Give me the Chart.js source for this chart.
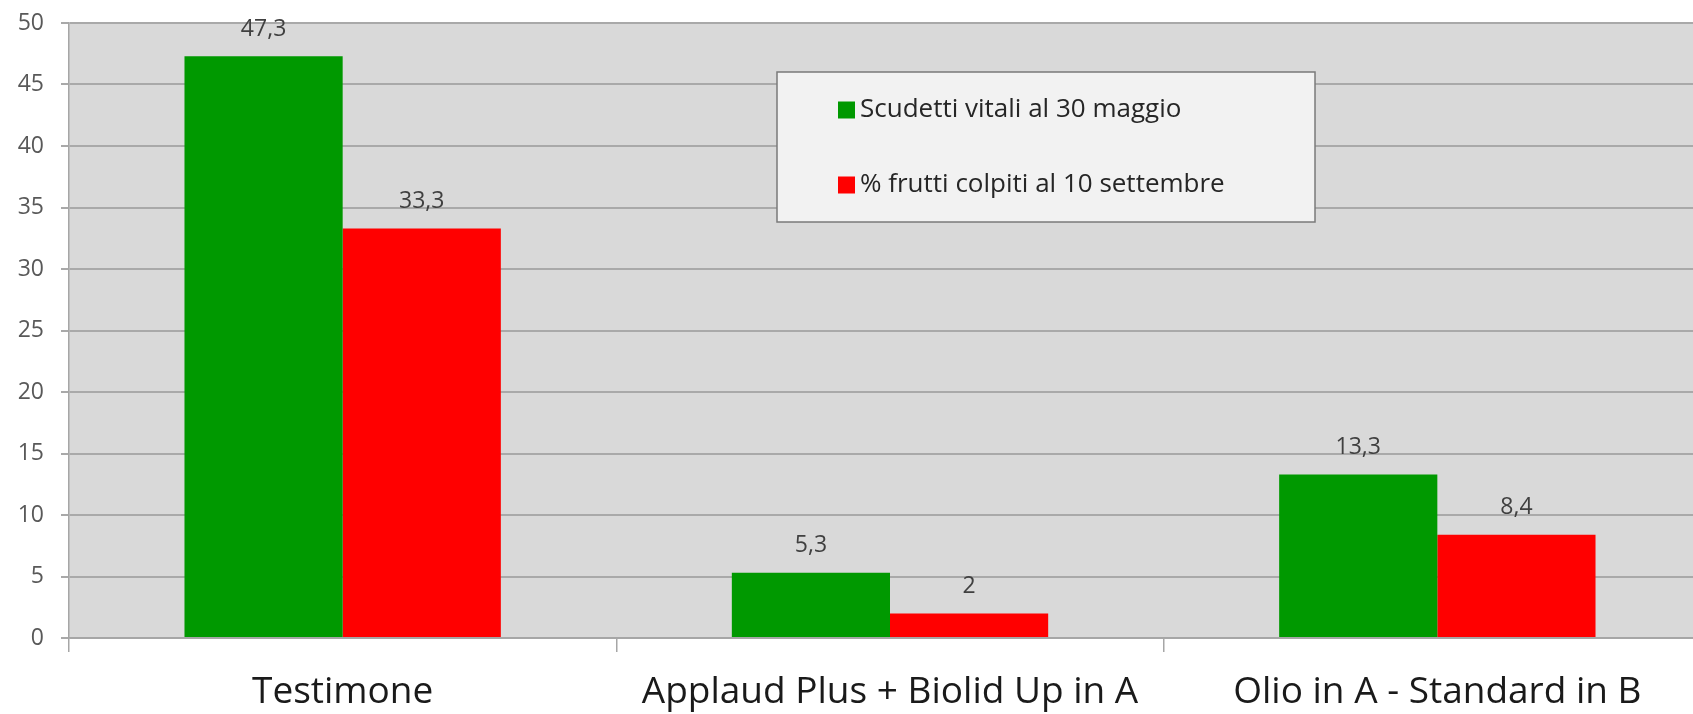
<!DOCTYPE html>
<html>
<head>
<meta charset="utf-8">
<script src="https://cdn.jsdelivr.net/npm/chart.js@4/dist/chart.umd.min.js"></script>
<style>
  html, body { margin: 0; padding: 0; background: #fff; overflow: hidden; }
  #wrap { width: 1711px; height: 714px; position: relative; }
</style>
</head>
<body>
<div id="wrap"><canvas id="barChart"></canvas></div>
<script>
const categories = ['Testimone', 'Applaud Plus + Biolid Up in A', 'Olio in A - Standard in B'];
const seriesNames = ['Scudetti vitali al 30 maggio', '% frutti colpiti al 10 settembre'];
const scudettiVitali = [47.3, 5.3, 13.3];
const fruttiColpiti = [33.3, 2, 8.4];
const yTicks = [0, 5, 10, 15, 20, 25, 30, 35, 40, 45, 50];

const FONT = "'Open Sans', 'DejaVu Sans', sans-serif";

// grey plot background
const plotBackground = {
  id: 'plotBackground',
  beforeDraw(chart) {
    const { ctx, chartArea } = chart;
    ctx.save();
    ctx.fillStyle = '#d9d9d9';
    ctx.fillRect(chartArea.left, chartArea.top, chartArea.right - chartArea.left, chartArea.bottom - chartArea.top);
    ctx.restore();
  }
};

// value labels above bars, with comma decimals
const valueLabels = {
  id: 'valueLabels',
  afterDatasetsDraw(chart) {
    const ctx = chart.ctx;
    ctx.save();
    ctx.font = '23px ' + FONT;
    ctx.fillStyle = '#404040';
    ctx.textAlign = 'center';
    ctx.textBaseline = 'middle';
    chart.data.datasets.forEach((ds, i) => {
      chart.getDatasetMeta(i).data.forEach((bar, j) => {
        const txt = String(ds.data[j]).replace('.', ',');
        ctx.fillText(txt, bar.x, bar.y - 27);
      });
    });
    ctx.restore();
  }
};

// boxed legend inside the plot
const boxLegend = {
  id: 'boxLegend',
  afterDraw(chart) {
    const ctx = chart.ctx;
    const box = { x: 777, y: 72, w: 538, h: 150 };
    ctx.save();
    ctx.fillStyle = '#f2f2f2';
    ctx.fillRect(box.x, box.y, box.w, box.h);
    ctx.strokeStyle = '#7a7a7a';
    ctx.lineWidth = 1.5;
    ctx.strokeRect(box.x, box.y, box.w, box.h);
    ctx.font = '26px ' + FONT;
    ctx.textBaseline = 'middle';
    ctx.textAlign = 'left';
    const rows = [110, 185];
    chart.data.datasets.forEach((ds, i) => {
      ctx.fillStyle = ds.backgroundColor;
      ctx.fillRect(838, rows[i] - 8.5, 17, 17);
      ctx.fillStyle = '#262626';
      ctx.fillText(ds.label, 860, rows[i]);
    });
    ctx.restore();
  }
};

const chartData = {
  labels: categories,
  datasets: [
    {
      label: seriesNames[0],
      data: scudettiVitali,
      backgroundColor: '#009900',
      categoryPercentage: 0.578,
      barPercentage: 1.0
    },
    {
      label: seriesNames[1],
      data: fruttiColpiti,
      backgroundColor: '#ff0000',
      categoryPercentage: 0.578,
      barPercentage: 1.0
    }
  ]
};

const config = {
  type: 'bar',
  data: chartData,
  options: {
    responsive: true,
    maintainAspectRatio: false,
    animation: false,
    layout: { padding: { top: 23, right: 0, left: 0, bottom: 0 } },
    plugins: {
      legend: { display: false },
      tooltip: { enabled: false }
    },
    scales: {
      x: {
        afterFit(scale) { scale.height = 76; },
        grid: {
          offset: true,
          drawOnChartArea: false,
          drawTicks: true,
          tickLength: 14,
          color: '#a6a6a6',
          lineWidth: 1.5
        },
        border: { display: true, color: '#a6a6a6', width: 1.5 },
        ticks: {
          padding: 18,
          color: '#1a1a1a',
          font: { family: FONT, size: 37 },
          maxRotation: 0
        }
      },
      y: {
        min: 0,
        max: 50,
        afterFit(scale) {
          scale.width = 69;
          scale.paddingTop = 0;
          scale.paddingBottom = 0;
        },
        afterBuildTicks(scale) { scale.ticks = yTicks.map(v => ({ value: v })); },
        grid: {
          color: '#a9a9a9',
          lineWidth: 2,
          drawTicks: true,
          tickLength: 8
        },
        border: { display: true, color: '#a6a6a6', width: 1.5 },
        ticks: {
          padding: 17,
          color: '#595959',
          font: { family: FONT, size: 23 }
        }
      }
    }
  },
  plugins: [plotBackground, valueLabels, boxLegend]
};

new Chart(document.getElementById('barChart').getContext('2d'), config);
</script>
</body>
</html>
